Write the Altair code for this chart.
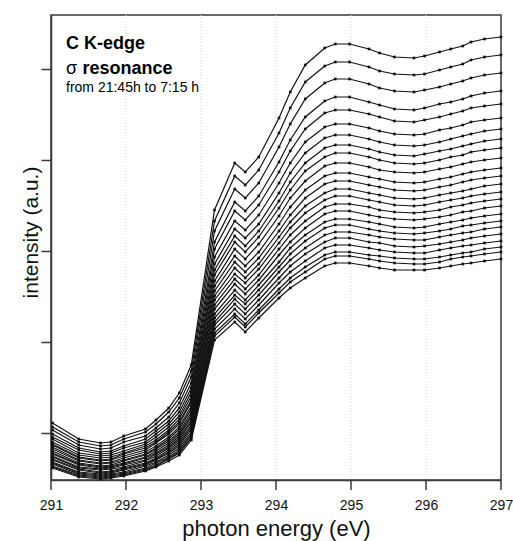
import altair as alt
import pandas as pd

# photon energies of the measured points (eV)
energy = [291.02, 291.37, 291.66, 291.8, 291.97, 292.26, 292.4, 292.57, 292.71, 292.87,
          293.18, 293.45, 293.59, 293.77, 294.04, 294.19, 294.39, 294.65, 294.79, 294.98,
          295.24, 295.38, 295.58, 295.84, 295.98, 296.18, 296.33, 296.49, 296.6, 296.78, 297.0]

# intensity (arbitrary units) of the successive scans, 21:45h (top) to 7:15h (bottom)
scan_01 = [57, 41, 37, 38, 44, 51, 60, 72, 87, 115, 270, 317, 308, 323, 362, 388, 415, 432, 436, 436, 431, 427, 423, 422, 424, 428, 431, 434, 438, 441, 443]
scan_02 = [53, 38, 34, 35, 41, 48, 56, 68, 82, 109, 259, 304, 295, 310, 347, 372, 398, 414, 418, 418, 413, 409, 406, 405, 406, 410, 413, 416, 420, 423, 425]
scan_03 = [50, 35, 31, 32, 38, 44, 52, 63, 77, 103, 249, 291, 282, 297, 333, 356, 381, 397, 401, 401, 396, 392, 389, 388, 390, 393, 396, 399, 402, 405, 407]
scan_04 = [46, 32, 28, 29, 34, 41, 49, 59, 72, 97, 238, 278, 269, 284, 318, 340, 363, 379, 383, 383, 378, 375, 371, 370, 372, 376, 378, 381, 384, 387, 389]
scan_05 = [43, 30, 26, 27, 32, 38, 46, 56, 68, 92, 231, 269, 260, 275, 308, 329, 351, 367, 370, 370, 366, 363, 359, 358, 360, 363, 366, 369, 372, 374, 376]
scan_06 = [41, 27, 24, 25, 29, 36, 43, 53, 64, 88, 223, 259, 250, 265, 297, 317, 338, 353, 356, 356, 352, 349, 346, 345, 346, 350, 352, 355, 358, 360, 362]
scan_07 = [38, 25, 22, 23, 27, 34, 40, 50, 61, 84, 216, 251, 242, 256, 287, 307, 327, 342, 345, 345, 341, 338, 335, 334, 335, 338, 341, 344, 346, 349, 351]
scan_08 = [36, 23, 20, 21, 26, 32, 38, 48, 58, 80, 210, 244, 234, 249, 279, 298, 317, 332, 335, 335, 331, 328, 325, 324, 326, 329, 331, 334, 336, 339, 341]
scan_09 = [35, 22, 19, 20, 24, 30, 37, 46, 56, 78, 205, 238, 228, 243, 272, 290, 309, 323, 327, 327, 323, 320, 317, 316, 317, 320, 323, 325, 328, 330, 332]
scan_10 = [33, 20, 17, 18, 22, 28, 34, 43, 53, 74, 199, 231, 221, 236, 264, 282, 299, 314, 317, 317, 313, 310, 308, 307, 308, 311, 313, 316, 318, 320, 322]
scan_11 = [31, 19, 16, 17, 20, 26, 32, 41, 51, 71, 194, 224, 214, 228, 256, 273, 290, 304, 307, 307, 303, 301, 298, 297, 298, 301, 303, 306, 308, 310, 312]
scan_12 = [29, 17, 14, 15, 19, 25, 31, 39, 48, 68, 189, 218, 208, 222, 249, 265, 282, 296, 299, 299, 295, 293, 290, 289, 290, 293, 295, 298, 300, 302, 304]
scan_13 = [27, 16, 13, 14, 17, 23, 29, 37, 46, 65, 184, 212, 202, 216, 243, 258, 274, 287, 291, 291, 287, 285, 282, 281, 282, 285, 287, 289, 291, 294, 296]
scan_14 = [26, 15, 12, 13, 16, 22, 27, 35, 44, 63, 180, 206, 197, 211, 237, 252, 267, 280, 284, 284, 280, 278, 275, 274, 275, 278, 280, 282, 284, 286, 288]
scan_15 = [24, 13, 11, 12, 15, 20, 26, 33, 42, 60, 175, 201, 191, 205, 231, 245, 259, 273, 276, 276, 273, 270, 268, 267, 268, 270, 273, 275, 277, 279, 281]
scan_16 = [23, 12, 10, 11, 13, 19, 24, 32, 40, 58, 171, 196, 186, 200, 225, 238, 252, 266, 269, 269, 265, 263, 261, 260, 261, 263, 265, 268, 269, 272, 274]
scan_17 = [21, 11, 8, 9, 12, 17, 22, 30, 38, 55, 166, 190, 180, 195, 218, 232, 245, 258, 261, 261, 258, 256, 253, 252, 253, 256, 258, 260, 262, 264, 266]
scan_18 = [20, 10, 7, 8, 11, 16, 21, 28, 36, 53, 162, 185, 176, 190, 213, 226, 239, 252, 255, 255, 251, 249, 247, 246, 247, 249, 251, 254, 255, 257, 259]
scan_19 = [18, 8, 6, 7, 10, 15, 20, 27, 34, 51, 158, 181, 171, 185, 208, 220, 232, 245, 248, 248, 245, 243, 241, 240, 240, 243, 245, 247, 248, 251, 253]
scan_20 = [17, 7, 5, 6, 8, 14, 18, 25, 32, 48, 155, 176, 166, 180, 202, 214, 226, 238, 242, 242, 238, 237, 234, 233, 234, 236, 238, 240, 242, 244, 246]
scan_21 = [16, 6, 4, 5, 7, 12, 17, 23, 30, 46, 151, 171, 161, 175, 197, 208, 219, 232, 235, 235, 232, 230, 228, 227, 227, 230, 232, 234, 235, 237, 239]
scan_22 = [14, 5, 3, 4, 6, 11, 15, 22, 28, 44, 147, 166, 156, 170, 191, 202, 213, 225, 228, 228, 225, 224, 222, 221, 221, 223, 225, 227, 228, 231, 233]
scan_23 = [13, 4, 2, 3, 5, 10, 14, 21, 27, 42, 144, 163, 153, 167, 187, 198, 208, 221, 224, 224, 221, 219, 217, 216, 216, 218, 221, 223, 224, 226, 228]
scan_24 = [12, 3, 1, 2, 4, 9, 13, 19, 25, 40, 140, 158, 148, 162, 182, 192, 202, 214, 217, 217, 214, 212, 210, 210, 210, 212, 214, 216, 217, 219, 221]

scans = [scan_01, scan_02, scan_03, scan_04, scan_05, scan_06, scan_07, scan_08,
         scan_09, scan_10, scan_11, scan_12, scan_13, scan_14, scan_15, scan_16,
         scan_17, scan_18, scan_19, scan_20, scan_21, scan_22, scan_23, scan_24]

x_ticks = [291, 292, 293, 294, 295, 296, 297]
x_grid = [292, 293, 294, 295, 296]
y_ticks = [47, 138, 229, 320, 411]

title_line = ["C K-edge"]
sigma_line = ["σ"]
resonance_line = ["resonance"]
time_line = ["from 21:45h to 7:15 h"]

rows = []
for k, s in enumerate(scans):
    for e, v in zip(energy, s):
        rows.append({"scan": k + 1, "energy": e, "intensity": v})
df = pd.DataFrame(rows)

FONT = "Liberation Sans"
AXC = "#3a3a3a"

x_scale = alt.Scale(domain=[291, 297], nice=False, zero=False)
x_axis = alt.Axis(values=x_ticks, format="d", title="photon energy (eV)",
                  labelFont=FONT, labelFontSize=14, labelColor="#111",
                  labelFlush=False, labelPadding=18, labelAlign="center",
                  ticks=False, domainColor=AXC, domainWidth=1.5, grid=False,
                  titleFont=FONT, titleFontSize=22, titleFontWeight="normal",
                  titleColor="#111", titlePadding=6)

grid = alt.Chart(pd.DataFrame({"energy": x_grid})).mark_rule(
    color="#d4d4d4", strokeWidth=1, strokeDash=[1, 2]
).encode(x=alt.X("energy:Q", scale=x_scale, axis=x_axis))

# tick marks below the x axis
xticks = alt.Chart(pd.DataFrame({"energy": x_ticks})).mark_rule(
    color=AXC, strokeWidth=1.5
).encode(x=alt.X("energy:Q", scale=x_scale, axis=x_axis),
         y=alt.value(465), y2=alt.value(475))

lines = alt.Chart(df).mark_line(
    color="#111111", strokeWidth=1.2,
    point=alt.OverlayMarkDef(shape="square", size=7, filled=True, color="#111111"),
).encode(
    x=alt.X("energy:Q", scale=x_scale, axis=x_axis),
    y=alt.Y("intensity:Q",
            scale=alt.Scale(domain=[0, 465], nice=False, zero=False),
            axis=alt.Axis(values=y_ticks, labels=False, title="intensity (a.u.)",
                          ticks=True, tickSize=10, tickColor=AXC, tickWidth=1.5,
                          domainColor=AXC, domainWidth=1.5, grid=False,
                          titleFont=FONT, titleFontSize=21, titleFontWeight="normal",
                          titleColor="#111", titleAngle=270, titleAlign="center",
                          titleBaseline="bottom", titleX=-10, titleY=217)),
    detail="scan:N",
    order="energy:Q",
)

def label(texts, x_px, y_px, size, weight):
    return alt.Chart(pd.DataFrame({"t": texts})).mark_text(
        align="left", baseline="alphabetic", font=FONT, fontSize=size,
        fontWeight=weight, color="#000",
    ).encode(x=alt.value(x_px), y=alt.value(y_px), text="t:N")

t1 = label(title_line, 15, 33.5, 18, "bold")
t2 = label(sigma_line, 15, 59, 18, "normal")
t3 = label(resonance_line, 31.5, 59, 18, "bold")
t4 = label(time_line, 15, 77, 14, "normal")

chart = alt.layer(grid, xticks, lines, t1, t2, t3, t4).properties(
    width=450, height=465,
    autosize=alt.AutoSizeParams(type="none"),
    padding={"left": 51, "top": 15, "right": 12, "bottom": 61},
    background="white",
).configure_view(stroke=AXC, strokeWidth=1.5)

chart.save("out.html", embed_options={"renderer": "svg", "actions": False})
